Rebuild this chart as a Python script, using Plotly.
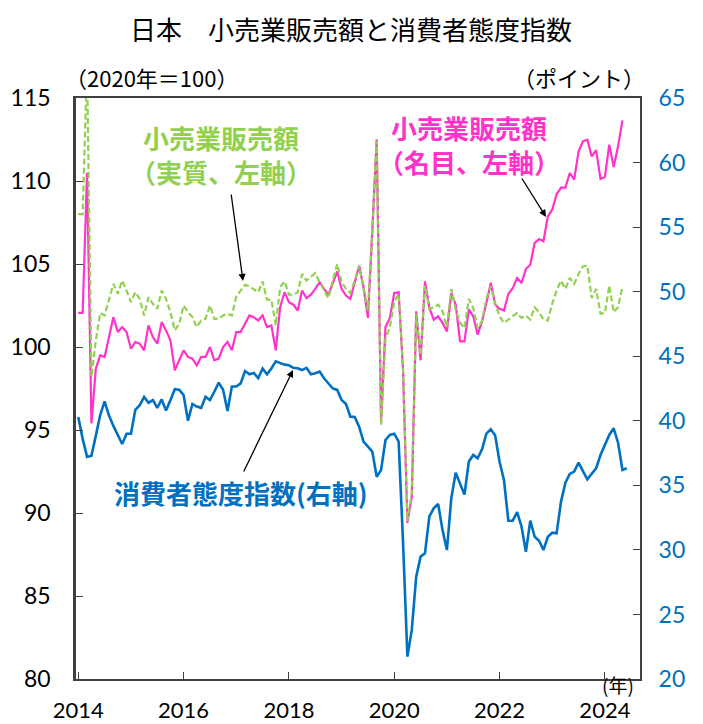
import plotly.graph_objects as go

# ---------------- data (monthly, Jan 2014 onward) ----------------
start_year = 2014
years_ticks = [2014, 2016, 2018, 2020, 2022, 2024]
tick_text = ["2014", "2016", "2018", "2020", "2022", "2024"]

# 小売業販売額（名目） 2020年=100
nominal = [
    102.05, 102.05, 110.5, 95.4, 98.7, 99.5, 99.4, 100.7, 101.8, 100.9, 101.2, 100.9,   # 2014
    99.9, 100.3, 100.2, 99.8, 101.3, 100.6, 100.2, 101.5, 101.0, 100.4, 98.6, 99.2,      # 2015
    99.8, 99.4, 99.3, 98.9, 99.4, 99.4, 100.0, 99.2, 99.3, 100.0, 100.3, 99.8,           # 2016
    100.9, 100.9, 101.4, 101.9, 101.8, 101.6, 101.9, 101.2, 101.3, 99.8, 102.4, 103.3,   # 2017
    102.7, 102.55, 102.2, 103.4, 102.95, 103.15, 103.5, 103.9, 103.5, 103.15, 103.85, 104.55,  # 2018
    103.5, 103.1, 102.9, 103.9, 104.9, 103.6, 101.75, 107.0, 112.5, 95.5, 101.2, 101.75,  # 2019
    103.25, 103.3, 98.6, 89.4, 91.0, 102.15, 99.2, 103.95, 102.35, 101.65, 101.85, 101.45,  # 2020
    100.94, 103.25, 102.55, 100.34, 100.34, 102.27, 101.85, 100.74, 101.54, 102.65, 103.87, 102.55,  # 2021
    102.3, 102.2, 103.2, 103.55, 104.15, 103.85, 104.7, 104.96, 106.27, 106.5, 106.37, 107.87,  # 2022
    108.27, 109.2, 109.6, 109.6, 110.48, 110.08, 111.78, 112.39, 112.49, 111.48, 111.86, 110.12,  # 2023
    110.24, 112.19, 110.84, 112.09, 113.65,                                              # 2024
]

# 小売業販売額（実質） 2020年=100
real = [
    108.0, 108.0, 117.0, 98.2, 100.4, 102.05, 101.9, 102.85, 103.8, 103.2, 104.0, 103.4,  # 2014
    102.7, 103.3, 102.9, 101.9, 103.0, 102.6, 102.3, 103.4, 102.9, 102.1, 101.0, 101.4,   # 2015
    102.5, 102.1, 101.8, 101.2, 101.6, 101.7, 102.5, 101.7, 101.7, 101.9, 102.0, 101.9,   # 2016
    103.05, 103.4, 103.75, 103.65, 103.5, 103.3, 103.95, 102.85, 102.85, 101.3, 103.6, 103.95,  # 2017
    103.15, 103.15, 103.3, 104.4, 104.0, 104.2, 104.45, 103.9, 103.4, 102.95, 104.0, 105.0,  # 2018
    103.9, 103.5, 103.25, 104.0, 104.9, 103.5, 102.2, 107.0, 112.4, 95.3, 100.5, 101.2,   # 2019
    102.75, 103.2, 98.8, 89.5, 91.2, 102.0, 99.5, 103.7, 102.3, 102.4, 102.55, 102.15,    # 2020
    101.2, 103.49, 102.25, 101.45, 101.14, 102.89, 102.35, 101.14, 101.55, 102.95, 103.65, 102.65,  # 2021
    101.84, 101.45, 101.65, 101.84, 102.05, 101.75, 101.89, 101.65, 102.39, 102.09, 101.65, 101.6,  # 2022
    102.6, 103.4, 104.0, 103.5, 104.16, 103.8, 104.4, 104.85, 104.9, 102.95, 103.5, 102.0,  # 2023
    102.05, 103.7, 102.1, 102.4, 103.63,                                                  # 2024
]

# 消費者態度指数（ポイント）
confidence = [
    40.3, 38.6, 37.2, 37.3, 38.85, 40.45, 41.5, 40.4, 39.6, 38.85, 38.2, 39.0,     # 2014
    39.0, 40.85, 41.2, 41.85, 41.4, 41.6, 41.0, 41.65, 40.8, 41.6, 42.45, 42.4,    # 2015
    42.0, 40.0, 41.3, 41.1, 41.0, 41.85, 41.6, 42.25, 42.95, 42.4, 40.75, 42.65,   # 2016
    42.65, 42.9, 43.85, 43.6, 43.7, 43.3, 44.05, 43.6, 44.05, 44.6, 44.45, 44.35,  # 2017
    44.3, 44.1, 44.07, 43.93, 44.1, 43.6, 43.68, 43.81, 43.29, 42.85, 42.5, 42.39, # 2018
    41.61, 41.3, 40.32, 40.3, 39.55, 38.38, 37.99, 37.61, 35.67, 36.19, 38.51, 38.9,  # 2019
    39.0, 38.38, 30.6, 21.73, 23.8, 27.93, 29.48, 29.73, 32.6, 33.22, 33.56, 31.54,  # 2020
    29.99, 34.0, 35.98, 35.05, 34.28, 36.85, 37.35, 37.09, 37.79, 39.0, 39.34, 38.86,  # 2021
    36.83, 35.41, 32.26, 32.26, 32.92, 31.8, 29.86, 32.26, 31.02, 30.71, 29.99, 31.02,  # 2022
    31.33, 31.28, 33.73, 35.2, 35.88, 36.06, 36.76, 36.1, 35.47, 35.9, 36.32, 37.35,  # 2023
    38.1, 38.9, 39.42, 38.3, 36.19, 36.32,                                             # 2024
]

x_nom = [start_year + i / 12 for i in range(len(nominal))]
x_real = [start_year + i / 12 for i in range(len(real))]
x_conf = [start_year + i / 12 for i in range(len(confidence))]

# ---------------- styling ----------------
OFF = 8                      # default page margin of the html body
W, H = 703 - OFF, 724 - OFF
# plot-area edges in page pixels
L, R, T, B = 76, 640, 98, 679
C_MAG = "#FF33CC"
C_GRN = "#92D050"
C_BLU = "#0070C0"
JP = "Noto Sans CJK JP"
NUM = "Lato"


def px(xp):
    return (xp - L) / (R - L)


def py(yp):
    return (B - yp) / (B - T)


fig = go.Figure()
fig.add_trace(go.Scatter(x=x_conf, y=confidence, mode="lines", yaxis="y2",
                         line=dict(color=C_BLU, width=2.6), name="消費者態度指数"))
fig.add_trace(go.Scatter(x=x_nom, y=nominal, mode="lines",
                         line=dict(color=C_MAG, width=2.2), name="名目"))
fig.add_trace(go.Scatter(x=x_real, y=real, mode="lines",
                         line=dict(color=C_GRN, width=2.2, dash="6px,3px"), name="実質"))

axis_common = dict(ticks="inside", ticklen=7, tickcolor="#404040", tickwidth=1.2,
                   showline=True, linecolor="#404040", showgrid=False, zeroline=False)

fig.update_layout(
    width=W, height=H,
    margin=dict(l=L - OFF, r=W - (R - OFF), t=T - OFF, b=H - (B - OFF), autoexpand=False),
    paper_bgcolor="white", plot_bgcolor="white",
    showlegend=False,
    xaxis=dict(range=[start_year - 0.52 / 12, start_year + 128 / 12],
               tickvals=years_ticks, ticktext=tick_text, linewidth=2, mirror=True,
               tickfont=dict(family=NUM, size=22, color="black"),
               ticklabelstandoff=11, **axis_common),
    yaxis=dict(range=[80, 115], tickvals=[80, 85, 90, 95, 100, 105, 110, 115], linewidth=2.5,
               tickfont=dict(family=NUM, size=23, color="black"),
               ticklabelstandoff=18, **axis_common),
    yaxis2=dict(range=[20, 65], tickvals=[20, 25, 30, 35, 40, 45, 50, 55, 60, 65],
                overlaying="y", side="right", linewidth=2,
                tickfont=dict(family=NUM, size=23, color=C_BLU),
                ticklabelstandoff=12, **axis_common),
)

anns = []


def text_ann(x, y, text, size, color, xanchor="center", yanchor="middle", bold=False):
    t = f"<b>{text}</b>" if bold else text
    anns.append(dict(x=px(x), y=py(y), xref="paper", yref="paper", showarrow=False,
                     text=t, font=dict(family=JP, size=size, color=color), align="center",
                     xanchor=xanchor, yanchor=yanchor))


# title: anchored to the top edge of the figure so that it is not clipped
text_ann(351, OFF, "日本　小売業販売額と消費者態度指数", 26, "black", yanchor="top")
text_ann(63, 77, "（2020年＝100）", 22, "black", xanchor="left")
text_ann(647, 77, "（ポイント）", 22, "black", xanchor="right")
text_ann(618, 684, "(年)", 19, "black")
# series labels
text_ann(221, 154, "小売業販売額<br>（実質、左軸）", 26, C_GRN, bold=True)
text_ann(469, 144, "小売業販売額<br>（名目、左軸）", 26, C_MAG, bold=True)
text_ann(241, 492, "消費者態度指数(右軸)", 26, C_BLU, bold=True)

# arrows (head, tail) in page pixels
for (hx, hy, tx, ty) in [(243, 281, 231, 193), (546, 217, 521, 177), (293, 370, 243, 473)]:
    anns.append(dict(x=px(hx), y=py(hy), xref="paper", yref="paper", text="",
                     showarrow=True, ax=tx - hx, ay=ty - hy, arrowhead=2, arrowsize=1.1,
                     arrowwidth=1.3, arrowcolor="black", standoff=0))

fig.update_layout(annotations=anns)
fig.write_html("out.html")
